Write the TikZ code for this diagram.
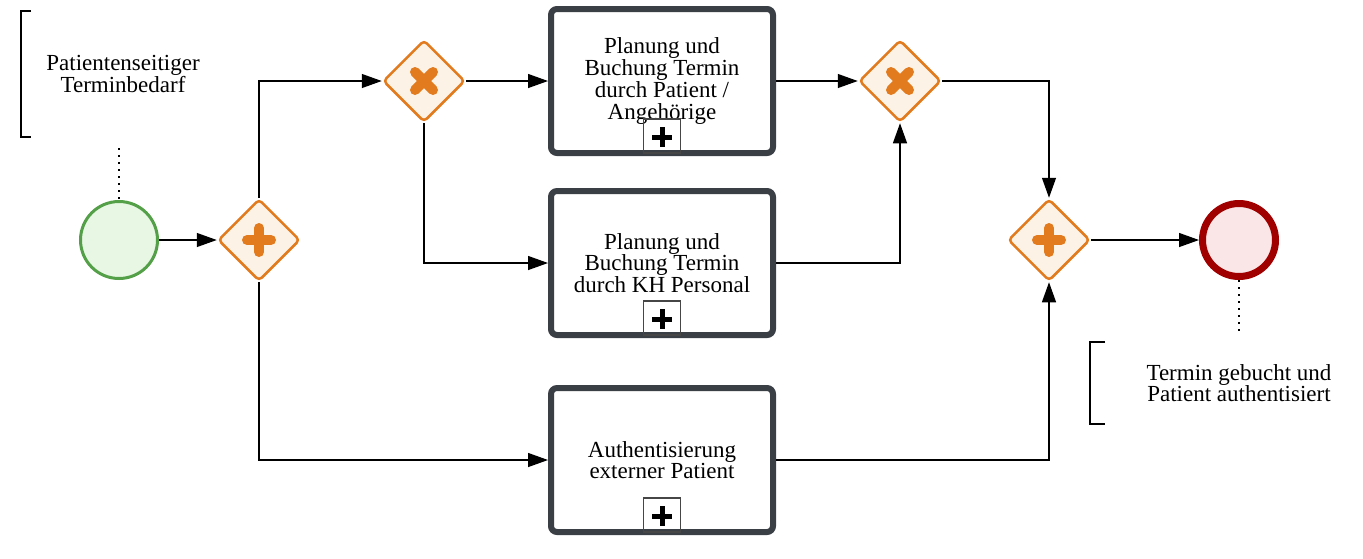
\documentclass[tikz,border=0pt]{standalone}
\usepackage{fontspec}
\setmainfont{Liberation Serif}
\usetikzlibrary{shapes.geometric,arrows.meta}
\definecolor{gwstroke}{RGB}{226,122,30}
\definecolor{gwfill}{RGB}{253,242,230}
\definecolor{ststroke}{RGB}{84,160,72}
\definecolor{stfill}{RGB}{232,247,228}
\definecolor{enstroke}{RGB}{160,0,0}
\definecolor{enfill}{RGB}{250,230,230}
\definecolor{tkstroke}{RGB}{58,62,69}
\definecolor{mkstroke}{RGB}{70,70,70}
\tikzset{
  lbl/.style={font=\fontsize{23}{21.7}\selectfont, align=center, inner sep=0},
  gateway/.style={shape=diamond, draw=gwstroke, fill=gwfill, line width=2.5, minimum width=82, minimum height=82, inner sep=0, rounded corners=4},
  gwmark/.style={draw=gwstroke, line width=10, line cap=round},
  startev/.style={circle, draw=ststroke, fill=stfill, line width=3, minimum size=77, inner sep=0},
  endev/.style={circle, draw=enstroke, fill=enfill, line width=7, minimum size=73, inner sep=0},
  task/.style={rectangle, draw=tkstroke, fill=white, line width=6, rounded corners=6, minimum width=222, minimum height=144, inner sep=0},
  flow/.style={draw=black, line width=1.3, -{Triangle[length=20,width=14]}},
  assoc/.style={draw=black, line width=1.6, dash pattern=on 2 off 5},
  brk/.style={draw=black, line width=2},
}
\begin{document}
\begin{tikzpicture}[x=1pt,y=-1pt]
\useasboundingbox (0,0) rectangle (1363,558);
% events
\node[startev] (st) at (119,240) {};
\node[endev] (en) at (1239,240) {};
% gateways
\node[gateway] (pg1) at (259,240) {};
\node[gateway] (x1) at (424,81) {};
\node[gateway] (x2) at (900,81) {};
\node[gateway] (pg2) at (1049,240) {};
\foreach \g in {pg1,pg2}{
  \draw[gwmark] ([xshift=-12]\g.center) -- ([xshift=12]\g.center);
  \draw[gwmark] ([yshift=-12]\g.center) -- ([yshift=12]\g.center);
}
\foreach \g in {x1,x2}{
  \draw[gwmark] ([shift={(-9,-9)}]\g.center) -- ([shift={(9,9)}]\g.center);
  \draw[gwmark] ([shift={(-9,9)}]\g.center) -- ([shift={(9,-9)}]\g.center);
}
% tasks
\node[task] (t1) at (662,81) {};
\node[task] (t2) at (662,263) {};
\node[task] (t3) at (662,460) {};
\node[lbl] (t1l) at (t1.center) {Planung und\\Buchung Termin\\durch Patient /\\Angehörige};
\node[lbl] (t2l) at (t2.center) {Planung und\\Buchung Termin\\durch KH Personal};
\node[lbl] (t3l) at (t3.center) {Authentisierung\\externer Patient};
\foreach \t in {t1,t2,t3}{
  \draw[draw=mkstroke, line width=1.6] ([shift={(-18.5,-3)}]\t.south) rectangle ([shift={(18.5,-37)}]\t.south);
  \draw[line width=5] ([shift={(-10,-19)}]\t.south) -- ([shift={(10,-19)}]\t.south);
  \draw[line width=5] ([shift={(0,-29)}]\t.south) -- ([shift={(0,-9)}]\t.south);
}
% flows
\draw[flow] (st.east) -- (pg1.west);
\draw[flow] (pg1.north) |- (x1.west);
\draw[flow] (pg1.south) |- (t3.west);
\draw[flow] (x1.east) -- (t1.west);
\draw[flow] (x1.south) |- (t2.west);
\draw[flow] (t1.east) -- (x2.west);
\draw[flow] (t2.east) -| (x2.south);
\draw[flow] (x2.east) -| (pg2.north);
\draw[flow] (t3.east) -| (pg2.south);
\draw[flow] (pg2.east) -- (en.west);
% annotations
\coordinate (a1) at (119,148);
\coordinate (a2) at (1239,332);
\draw[assoc] (a1) -- (st.north);
\draw[assoc] (en.south) -- (a2);
\draw[brk] (31,11) -- (21,11) -- (21,137) -- (31,137);
\draw[brk] (1105,342) -- (1090,342) -- (1090,424) -- (1105,424);
\node[lbl] (n1) at (123,74) {Patientenseitiger\\Terminbedarf};
\node[lbl] (n2) at (1239,383) {Termin gebucht und\\Patient authentisiert};
\end{tikzpicture}
\end{document}
